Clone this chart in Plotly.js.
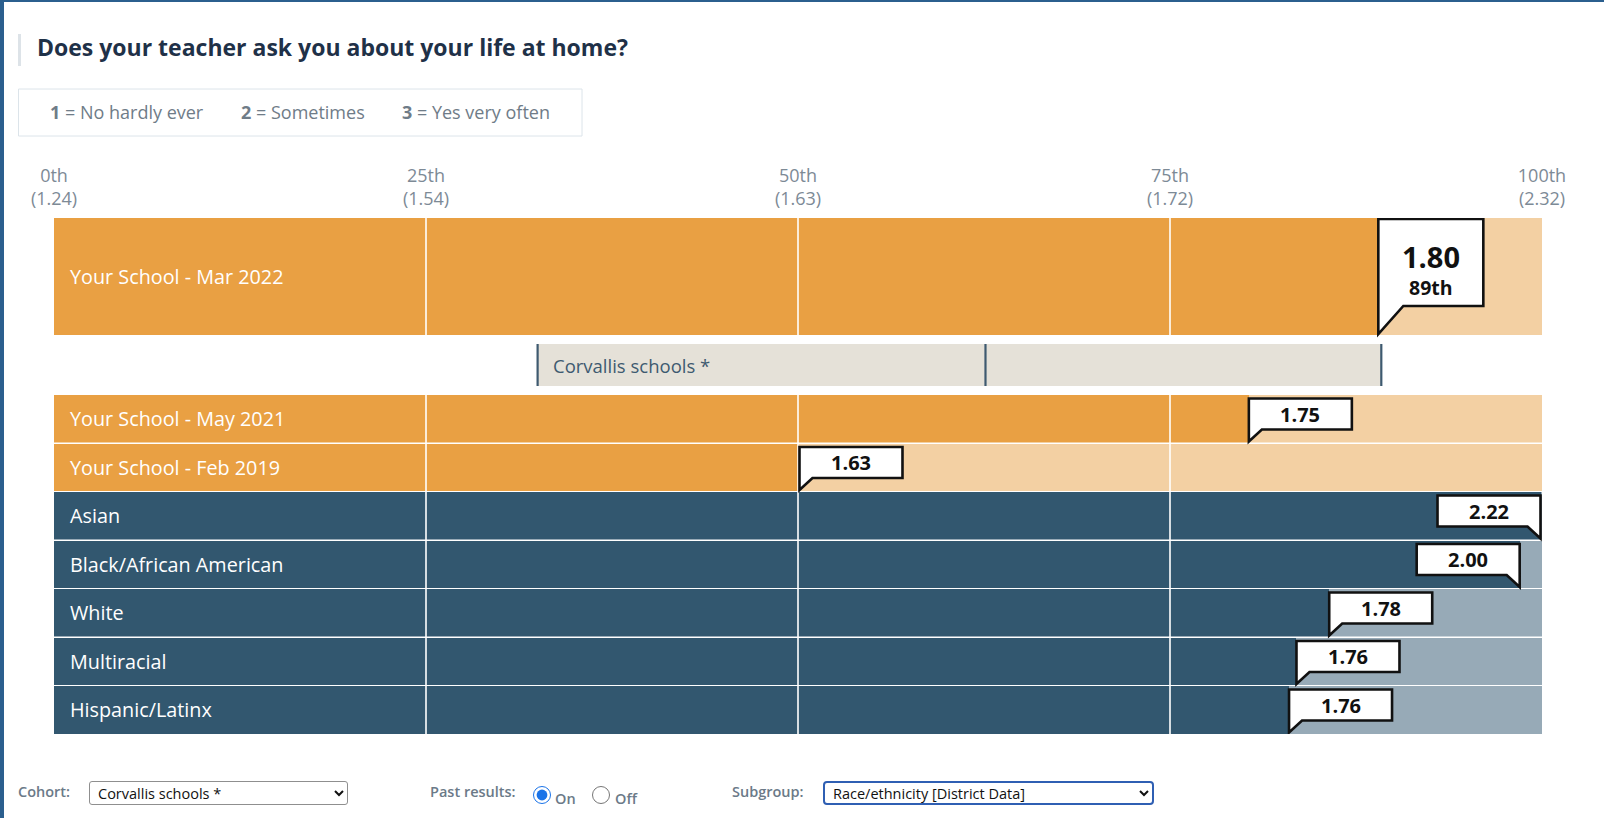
<!DOCTYPE html>
<html>
<head>
<meta charset="utf-8">
<script src="https://cdn.plot.ly/plotly-3.0.1.min.js"></script>
<style>
  html, body { margin: 0; padding: 0; background: #ffffff; font-family: 'Open Sans', sans-serif; }
  #chart { position: absolute; left: 0; top: 0; width: 1604px; height: 818px; }
  .frameL { position: absolute; left: 0; top: 0; width: 4px; height: 818px; background: #2b5f8e; z-index: 5; }
  .frameT { position: absolute; left: 0; top: 0; width: 1604px; height: 2px; background: #2b5f8e; z-index: 5; }
  .ctl { position: absolute; z-index: 5; font-family: 'Open Sans', sans-serif; }
  .lab { font-size: 14.5px; font-weight: 600; color: #6b7a88; top: 782px; }
  select.ctl { top: 781px; height: 24px; font-size: 14.5px; color: #111; background: #fff;
               border: 1px solid #8f8f8f; border-radius: 3px; padding: 0 4px; }
  #subgroup { border: 2px solid #2f5fb3; border-radius: 4px; }
  input.ctl { margin: 0; width: 18px; height: 18px; top: 786px; accent-color: #1a73e8; }
  .rtxt { font-size: 14.5px; font-weight: 600; color: #6b7a88; top: 789px; }
</style>
</head>
<body>
<div id="chart"></div>
<div class="frameL"></div>
<div class="frameT"></div>
<span class="ctl lab" style="left:18px;">Cohort:</span>
<select class="ctl" style="left:89px;width:259px;"><option>Corvallis schools *</option></select>
<span class="ctl lab" style="left:430px;">Past results:</span>
<input class="ctl" type="radio" name="past" checked style="left:533px;">
<span class="ctl rtxt" style="left:555px;">On</span>
<input class="ctl" type="radio" name="past" style="left:592px;">
<span class="ctl rtxt" style="left:615px;">Off</span>
<span class="ctl lab" style="left:732px;">Subgroup:</span>
<select id="subgroup" class="ctl" style="left:823px;width:331px;"><option>Race/ethnicity [District Data]</option></select>

<script>
// ---------------- DATA ----------------
const questionTitle = 'Does your teacher ask you about your life at home?';
const scaleLevels = ['1', '2', '3'];
const scaleLabels = ['No hardly ever', 'Sometimes', 'Yes very often'];

const tickPercentiles = [0, 25, 50, 75, 100];
const tickNames = ['0th', '25th', '50th', '75th', '100th'];
const tickScores = ['1.24', '1.54', '1.63', '1.72', '2.32'];

const rowLabels = ['Your School - Mar 2022', 'Your School - May 2021', 'Your School - Feb 2019',
                   'Asian', 'Black/African American', 'White', 'Multiracial', 'Hispanic/Latinx'];
const rowGroups = ['school', 'school', 'school', 'subgroup', 'subgroup', 'subgroup', 'subgroup', 'subgroup'];
const rowScores = ['1.80', '1.75', '1.63', '2.22', '2.00', '1.78', '1.76', '1.76'];
const rowPercentiles = [89, 80.3, 50.1, 99.9, 98.5, 85.7, 83.5, 83.0];
const highlightRank = '89th';

const cohortName = 'Corvallis schools *';
const cohortPercentiles = [32.5, 62.6, 89.2];   // low, middle, high

// ---------------- LAYOUT GEOMETRY ----------------
const W = 1604, H = 818;
const plotL = 54, plotR = 1542, plotT = 218, plotB = 734;
const rowTop = [218, 395, 443.5, 492, 540.5, 589, 637.5, 686];
const rowH   = [117, 47.5, 47.5, 47.5, 47.5, 47.5, 47.5, 47.5];
const rowCenter = rowTop.map((t, i) => t + rowH[i] / 2);
const rowBottom = rowTop.map((t, i) => t + rowH[i]);
const cohortTop = 344, cohortBot = 386;

const C = {
  orange: '#E9A043', orangeLight: '#F3D0A3',
  navy: '#32576F', navyLight: '#97AAB7',
  band: '#E5E1D8', bandLine: '#3E5A70',
  tick: '#7D8A96', title: '#1F3148', legend: '#6F7C88'
};
const FONT = "'Open Sans', 'Noto Sans', sans-serif";

const px2paperX = p => (p - plotL) / (plotR - plotL);
const px2paperY = p => (plotB - p) / (plotB - plotT);

// ---------------- TRACES ----------------
const bgTrace = {
  type: 'bar', orientation: 'h',
  y: rowCenter, x: rowLabels.map(() => 100), base: 0,
  width: rowH,
  marker: { color: rowGroups.map(g => g === 'school' ? C.orangeLight : C.navyLight), line: { width: 0 } },
  hoverinfo: 'skip', showlegend: false
};
const valTrace = {
  type: 'bar', orientation: 'h',
  y: rowCenter, x: rowPercentiles, base: 0,
  width: rowH,
  marker: { color: rowGroups.map(g => g === 'school' ? C.orange : C.navy), line: { width: 0 } },
  hoverinfo: 'skip', showlegend: false
};
const cohortTrace = {
  type: 'bar', orientation: 'h',
  y: [(cohortTop + cohortBot) / 2],
  x: [cohortPercentiles[2] - cohortPercentiles[0]],
  base: [cohortPercentiles[0]],
  width: [cohortBot - cohortTop],
  marker: { color: C.band, line: { width: 0 } },
  hoverinfo: 'skip', showlegend: false
};

// ---------------- SHAPES ----------------
const shapes = [];
shapes.push({ type: 'rect', xref: 'paper', yref: 'paper',
  x0: px2paperX(18), x1: px2paperX(21), y0: px2paperY(66), y1: px2paperY(34),
  fillcolor: '#DDE3E8', line: { width: 0 } });
shapes.push({ type: 'rect', xref: 'paper', yref: 'paper',
  x0: px2paperX(18.5), x1: px2paperX(582), y0: px2paperY(136), y1: px2paperY(89),
  fillcolor: 'rgba(0,0,0,0)', line: { color: '#DCE4EA', width: 1 } });
tickPercentiles.slice(1, -1).forEach(p => {
  shapes.push({ type: 'line', xref: 'x', yref: 'y', x0: p, x1: p, y0: rowTop[0], y1: rowBottom[0],
    line: { color: '#ffffff', width: 1.6 }, layer: 'above' });
  shapes.push({ type: 'line', xref: 'x', yref: 'y', x0: p, x1: p, y0: rowTop[1], y1: plotB,
    line: { color: '#ffffff', width: 1.6 }, layer: 'above' });
});
for (let i = 1; i < rowLabels.length - 1; i++) {
  shapes.push({ type: 'line', xref: 'x', yref: 'y', x0: 0, x1: 100, y0: rowBottom[i] + 0.5, y1: rowBottom[i] + 0.5,
    line: { color: '#ffffff', width: 1.2 }, layer: 'above' });
}
cohortPercentiles.forEach(p => {
  shapes.push({ type: 'line', xref: 'x', yref: 'y', x0: p, x1: p, y0: cohortTop, y1: cohortBot,
    line: { color: C.bandLine, width: 2.2 }, layer: 'above' });
});

const annotations = [];
rowLabels.forEach((lab, i) => {
  const big = i === 0;
  const bw = big ? 105 : 103, bh = big ? 87 : 31, t = big ? 28 : 12, d = big ? 25 : 13;
  const right = rowPercentiles[i] > 92;
  const s = right ? -1 : 1;
  const path = `M0,0 L0,${t + bh} L${s * bw},${t + bh} L${s * bw},${t} L${s * d},${t} Z`;
  shapes.push({ type: 'path', xref: 'x', yref: 'y', xsizemode: 'pixel', ysizemode: 'pixel',
    xanchor: rowPercentiles[i], yanchor: rowBottom[i] - 1, path: path,
    fillcolor: '#ffffff', line: { color: '#111111', width: 2.6 }, layer: 'above' });
  if (big) {
    annotations.push({ xref: 'x', yref: 'y', x: rowPercentiles[i], y: rowBottom[i] - 1,
      xshift: s * bw / 2, yshift: 78, text: '<b>' + rowScores[i] + '</b>', showarrow: false,
      xanchor: 'center', yanchor: 'middle', font: { family: FONT, size: 29, color: '#111' } });
    annotations.push({ xref: 'x', yref: 'y', x: rowPercentiles[i], y: rowBottom[i] - 1,
      xshift: s * bw / 2, yshift: 47, text: '<b>' + highlightRank + '</b>', showarrow: false,
      xanchor: 'center', yanchor: 'middle', font: { family: FONT, size: 19.5, color: '#111' } });
  } else {
    annotations.push({ xref: 'x', yref: 'y', x: rowPercentiles[i], y: rowBottom[i] - 1,
      xshift: s * bw / 2, yshift: t + bh / 2, text: '<b>' + rowScores[i] + '</b>', showarrow: false,
      xanchor: 'center', yanchor: 'middle', font: { family: FONT, size: 20, color: '#111' } });
  }
  annotations.push({ xref: 'x', yref: 'y', x: 0, y: rowCenter[i], xshift: 14, text: lab,
    showarrow: false, xanchor: 'left', yanchor: 'middle',
    font: { family: FONT, size: 19.8, color: '#ffffff' } });
});
annotations.push({ xref: 'x', yref: 'y', x: cohortPercentiles[0], y: (cohortTop + cohortBot) / 2, xshift: 13,
  text: cohortName, showarrow: false, xanchor: 'left', yanchor: 'middle',
  font: { family: FONT, size: 18.5, color: C.bandLine } });
const legendX = [48, 239, 400];
scaleLevels.forEach((lv, i) => {
  annotations.push({ xref: 'paper', yref: 'paper', x: px2paperX(legendX[i]), y: px2paperY(112),
    text: '<b>' + lv + '</b> = ' + scaleLabels[i], showarrow: false, xanchor: 'left', yanchor: 'middle',
    font: { family: FONT, size: 18, color: C.legend } });
});

const layout = {
  width: W, height: H,
  margin: { l: plotL, r: W - plotR, t: plotT, b: H - plotB, pad: 0 },
  paper_bgcolor: '#ffffff', plot_bgcolor: '#ffffff',
  title: { text: '<b>' + questionTitle + '</b>', xref: 'container', yref: 'container',
    x: 37 / W, xanchor: 'left', y: 1 - 48 / H, yanchor: 'middle',
    font: { family: FONT, size: 23, color: C.title } },
  barmode: 'overlay', bargap: 0,
  xaxis: { range: [0, 100], side: 'top', tickmode: 'array', tickvals: tickPercentiles,
    ticktext: tickNames.map((n, i) => n + '<br>(' + tickScores[i] + ')'),
    showgrid: false, zeroline: false, showline: false, ticks: '', ticklabelstandoff: 8,
    tickfont: { family: FONT, size: 18, color: C.tick }, fixedrange: true },
  yaxis: { range: [plotB, plotT], showgrid: false, zeroline: false, showline: false,
    showticklabels: false, ticks: '', fixedrange: true },
  shapes: shapes, annotations: annotations, showlegend: false
};

Plotly.newPlot('chart', [bgTrace, valTrace, cohortTrace], layout, { displayModeBar: false, staticPlot: true });
</script>
</body>
</html>
